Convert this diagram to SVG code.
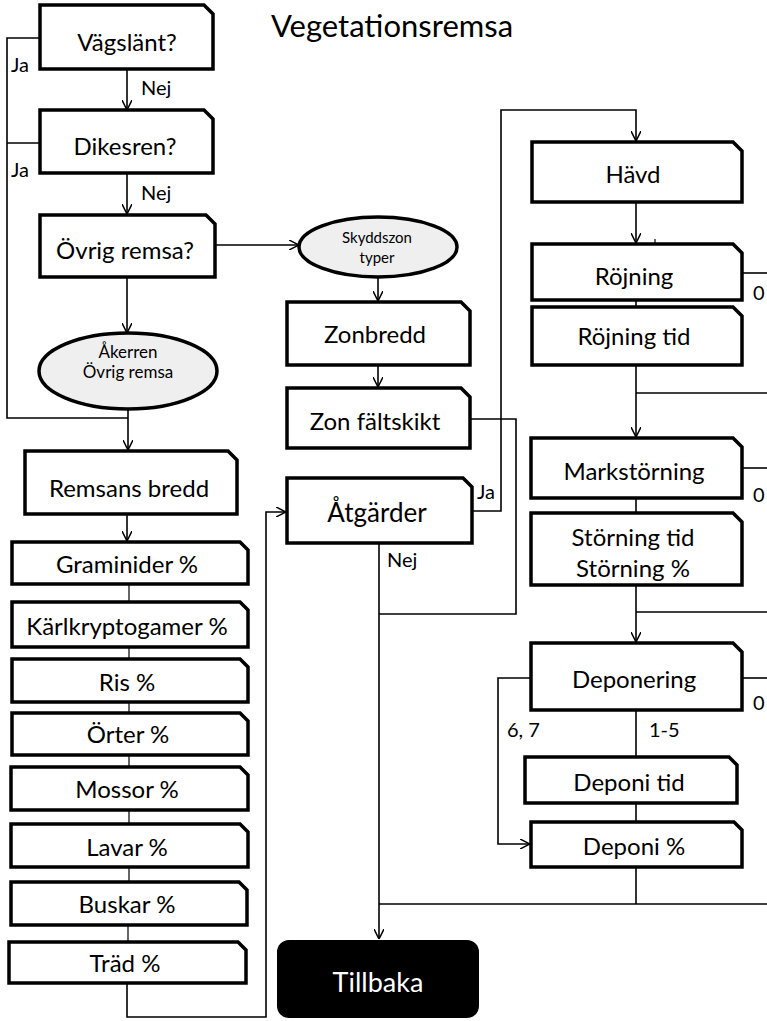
<svg xmlns="http://www.w3.org/2000/svg" width="767" height="1021" viewBox="0 0 767 1021">
<style>
.box{fill:#fff;stroke:#000;stroke-width:3.5;stroke-linejoin:miter}
.ell{fill:#efefef;stroke:#000;stroke-width:3.5}
.t{font-family:Lato,"Open Sans",sans-serif;font-size:24px;text-anchor:middle;fill:#000}
.s{font-family:Lato,"Open Sans",sans-serif;font-size:17px;text-anchor:middle;fill:#000}
.l{font-family:Lato,"Open Sans",sans-serif;font-size:20px;fill:#000}
.c{fill:none;stroke:#000;stroke-width:1.6}
.c2{fill:none;stroke:#000;stroke-width:1.2}
</style>
<defs>
<marker id="arr" viewBox="0 0 10 10" refX="10" refY="5" markerWidth="10" markerHeight="10" orient="auto" markerUnits="userSpaceOnUse">
<path d="M0,0 L10,5 L0,10" fill="none" stroke="#000" stroke-width="1.5"/>
</marker>
</defs>
<rect width="767" height="1021" fill="#fff"/>
<text x="392" y="37" style="font-family:Lato,'Open Sans',sans-serif;font-size:31px;text-anchor:middle">Vegetationsremsa</text>

<g id="connectors">
<path class="c" d="M40,38 H7 V418 H128"/>
<path class="c" d="M40,143 H7"/>
<path class="c" d="M127,69 V110" marker-end="url(#arr)"/>
<path class="c" d="M127,173 V214" marker-end="url(#arr)"/>
<path class="c" d="M127,277 V333" marker-end="url(#arr)"/>
<path class="c" d="M128,409 V450" marker-end="url(#arr)"/>
<path class="c" d="M215,245 H299" marker-end="url(#arr)"/>
<path class="c" d="M378,277 V301" marker-end="url(#arr)"/>
<path class="c" d="M378,365 V387" marker-end="url(#arr)"/>
<path class="c" d="M470,419 H516 V614 H379"/>
<path class="c" d="M127,514 V541" marker-end="url(#arr)"/>
<path class="c2" d="M129,584 V602 M129,647 V659 M129,702 V713 M129,755 V767 M129,810 V824 M129,867 V882 M128,925 V942"/>
<path class="c" d="M127,983 V1017 H266 V512 H286" marker-end="url(#arr)"/>
<path class="c" d="M472,511 H501 V110 H636 V141" marker-end="url(#arr)"/>
<path class="c" d="M379,543 V939" marker-end="url(#arr)"/>
<path class="c" d="M636,202 V243" marker-end="url(#arr)"/>
<path class="c2" d="M655,239 V245"/>
<path class="c" d="M636,300 V307"/>
<path class="c" d="M742,273 H767"/>
<path class="c" d="M636,365 V437" marker-end="url(#arr)"/>
<path class="c" d="M636,393 H767"/>
<path class="c" d="M742,468 H767"/>
<path class="c" d="M636,498 V513"/>
<path class="c" d="M636,585 V642" marker-end="url(#arr)"/>
<path class="c" d="M636,612 H767"/>
<path class="c" d="M742,678 H767"/>
<path class="c" d="M531,678 H498 V844 H530" marker-end="url(#arr)"/>
<path class="c" d="M636,710 V757"/>
<path class="c" d="M636,803 V822"/>
<path class="c" d="M636,867 V904"/>
<path class="c" d="M379,904 H767"/>
<text class="l" x="11" y="72">Ja</text>
<text class="l" x="11" y="177">Ja</text>
<text class="l" x="141" y="95">Nej</text>
<text class="l" x="141" y="200">Nej</text>
<text class="l" x="477" y="499">Ja</text>
<text class="l" x="387" y="567">Nej</text>
<text class="l" x="753" y="300">0</text>
<text class="l" x="753" y="502">0</text>
<text class="l" x="753" y="710">0</text>
<text class="l" x="507" y="737">6, 7</text>
<text class="l" x="649" y="737">1-5</text>
</g>

<g id="n-vagslant"><path class="box" d="M40,5 H204 L213,14 V69 H40 Z"/><text class="t" x="127" y="51">Vägslänt?</text></g>
<g id="n-dikesren"><path class="box" d="M40,110 H204 L213,119 V173 H40 Z"/><text class="t" x="125" y="155">Dikesren?</text></g>
<g id="n-ovrig"><path class="box" d="M40,215 H206 L215,224 V277 H40 Z"/><text class="t" x="125" y="259">Övrig remsa?</text></g>
<g id="n-akerren"><ellipse class="ell" cx="128" cy="371" rx="89" ry="38"/><text class="s" x="128" y="358">Åkerren</text><text class="s" x="128" y="378">Övrig remsa</text></g>
<g id="n-skyddszon"><ellipse class="ell" cx="378" cy="247" rx="79" ry="30"/><text class="s" x="377" y="243" style="font-size:15px">Skyddszon</text><text class="s" x="377" y="263" style="font-size:15px">typer</text></g>
<g id="n-remsans"><path class="box" d="M25,451 H228 L237,460 V514 H25 Z"/><text class="t" x="129" y="497">Remsans bredd</text></g>
<g id="n-graminider"><path class="box" d="M12,542 H240 L248,550 V584 H12 Z"/><text class="t" x="127" y="573">Graminider %</text></g>
<g id="n-karl"><path class="box" d="M12,602 H240 L248,610 V647 H12 Z"/><text class="t" x="127" y="635">Kärlkryptogamer %</text></g>
<g id="n-ris"><path class="box" d="M12,659 H240 L248,667 V702 H12 Z"/><text class="t" x="127" y="691">Ris %</text></g>
<g id="n-orter"><path class="box" d="M12,713 H240 L248,721 V755 H12 Z"/><text class="t" x="128" y="743">Örter %</text></g>
<g id="n-mossor"><path class="box" d="M11,767 H240 L248,775 V810 H11 Z"/><text class="t" x="127" y="798">Mossor %</text></g>
<g id="n-lavar"><path class="box" d="M11,824 H240 L248,832 V867 H11 Z"/><text class="t" x="127" y="856">Lavar %</text></g>
<g id="n-buskar"><path class="box" d="M11,882 H239 L247,890 V925 H11 Z"/><text class="t" x="127" y="913">Buskar %</text></g>
<g id="n-trad"><path class="box" d="M9,942 H238 L246,950 V983 H9 Z"/><text class="t" x="125" y="972">Träd %</text></g>
<g id="n-zonbredd"><path class="box" d="M287,302 H461 L470,311 V365 H287 Z"/><text class="t" x="375" y="343">Zonbredd</text></g>
<g id="n-zonfalt"><path class="box" d="M287,388 H461 L470,397 V448 H287 Z"/><text class="t" x="375" y="430">Zon fältskikt</text></g>
<g id="n-atgarder"><path class="box" d="M287,478 H463 L472,487 V543 H287 Z"/><text class="t" x="377" y="522" style="font-size:26px">Åtgärder</text></g>
<g id="n-havd"><path class="box" d="M532,142 H733 L742,151 V202 H532 Z"/><text class="t" x="633" y="183">Hävd</text></g>
<g id="n-rojning"><path class="box" d="M532,244 H733 L742,253 V300 H532 Z"/><text class="t" x="634" y="285">Röjning</text></g>
<g id="n-rojtid"><path class="box" d="M532,307 H733 L742,316 V365 H532 Z"/><text class="t" x="634" y="345">Röjning tid</text></g>
<g id="n-markstorning"><path class="box" d="M531,438 H733 L742,447 V498 H531 Z"/><text class="t" x="634" y="480">Markstörning</text></g>
<g id="n-storning"><path class="box" d="M531,513 H733 L742,522 V585 H531 Z"/><text class="t" x="633" y="546">Störning tid</text><text class="t" x="633" y="577">Störning %</text></g>
<g id="n-deponering"><path class="box" d="M531,643 H733 L742,652 V710 H531 Z"/><text class="t" x="634" y="688">Deponering</text></g>
<g id="n-depotid"><path class="box" d="M525,757 H729 L737,765 V803 H525 Z"/><text class="t" x="629" y="791">Deponi tid</text></g>
<g id="n-depoproc"><path class="box" d="M531,822 H734 L742,830 V867 H531 Z"/><text class="t" x="634" y="855">Deponi %</text></g>
<g id="n-tillbaka"><rect x="277" y="940" width="202" height="78" rx="12" fill="#000"/><text x="378" y="992" style="font-family:Lato,'Open Sans',sans-serif;font-size:27px;text-anchor:middle;fill:#fff">Tillbaka</text></g>
</svg>
